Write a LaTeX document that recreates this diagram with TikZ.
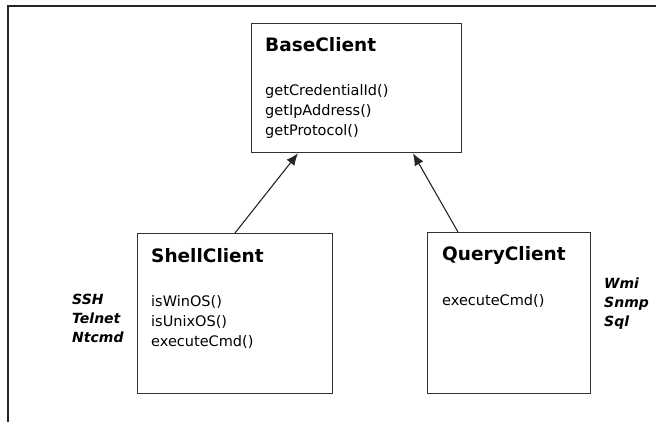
\documentclass[tikz,border=0pt]{standalone}
\usepackage{fontspec}
\setmainfont{DejaVu Sans}
\usetikzlibrary{calc,arrows.meta}

\tikzset{
  classbox/.style={draw=black!80, line width=1.3pt, rectangle, anchor=north west, inner sep=0pt},
  classname/.style={anchor=base west, inner sep=0pt, font=\fontsize{18.5}{22}\selectfont\bfseries},
  method/.style={anchor=base west, inner sep=0pt, font=\fontsize{14.5}{20}\selectfont},
  protocol/.style={anchor=base west, inner sep=0pt, font=\fontsize{14}{19}\selectfont\bfseries\itshape},
  inherits/.style={draw=black!85, line width=1.1pt, -{Latex[length=12pt,width=10pt]}}
}

\begin{document}
\begin{tikzpicture}[x=1pt, y=-1pt]
  \useasboundingbox (0,0) rectangle (656,422);
  \draw[line width=1.5pt, black!85] (8,422) -- (8,6) -- (656,6);

  \node[classbox, minimum width=210pt, minimum height=129pt] (base) at (251,23) {};
  \node[classbox, minimum width=195pt, minimum height=160pt] (shell) at (137,233) {};
  \node[classbox, minimum width=163pt, minimum height=161pt] (query) at (427,232) {};

  \node[classname] (baseName) at (265,52) {BaseClient};
  \node[method] (baseM1) at (265,96) {getCredentialId()};
  \node[method] (baseM2) at (265,116) {getIpAddress()};
  \node[method] (baseM3) at (265,136) {getProtocol()};

  \node[classname] (shellName) at (151,262) {ShellClient};
  \node[method] (shellM1) at (151,306) {isWinOS()};
  \node[method] (shellM2) at (151,326) {isUnixOS()};
  \node[method] (shellM3) at (151,346) {executeCmd()};

  \node[classname] (queryName) at (442,260) {QueryClient};
  \node[method] (queryM1) at (442,305) {executeCmd()};

  \node[protocol] (ssh) at (72,304) {SSH};
  \node[protocol] (telnet) at (72,323) {Telnet};
  \node[protocol] (ntcmd) at (72,342) {Ntcmd};

  \node[protocol] (wmi) at (604,288) {Wmi};
  \node[protocol] (snmp) at (604,307) {Snmp};
  \node[protocol] (sql) at (604,326) {Sql};

  \draw[inherits] ($(shell.north west)+(98,0)$) -- ($(base.south west)+(47,0)$);
  \draw[inherits] ($(query.north west)+(31,0)$) -- ($(base.south west)+(162,0)$);
\end{tikzpicture}
\end{document}
